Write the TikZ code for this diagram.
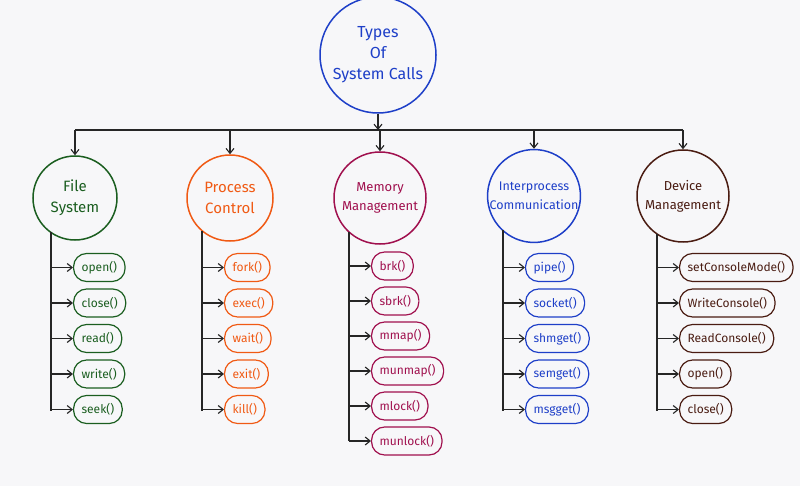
\documentclass[tikz,border=0pt]{standalone}
\usepackage{fontspec}
\setmainfont{Fira Sans}
\usetikzlibrary{positioning,arrows.meta}
\definecolor{fsgreen}{HTML}{1B5E20}
\definecolor{pcorange}{HTML}{F05A14}
\definecolor{mmred}{HTML}{A0104E}
\definecolor{ipblue}{HTML}{1E3FC8}
\definecolor{dmbrown}{HTML}{4A1C12}
\definecolor{paper}{HTML}{F7F7F9}
\tikzset{
  cat/.style={circle,draw,line width=1.5pt,align=center,inner sep=0pt,font=\fontsize{15}{21}\selectfont},
  leaf/.style={draw,line width=1.2pt,rounded corners=13pt,minimum height=28pt,inner xsep=8pt,anchor=west,font=\fontsize{12}{14}\selectfont},
  link/.style={-{Straight Barb[length=5pt,width=8pt]},line width=1.1pt,black!85},
  trunk/.style={line width=1.1pt,black!85}
}
\begin{document}
\begin{tikzpicture}[x=1pt,y=-1pt]
\fill[paper] (0,0) rectangle (800,486);
\useasboundingbox (0,0) rectangle (800,486);
% root
\node[cat,draw=ipblue,text=ipblue,minimum size=116pt,font=\fontsize{16}{21}\selectfont] (root) at (378,55) {Types\\Of\\System Calls};
\coordinate (bus) at (378,130);
\draw[link] (root.south) -- (bus);
% categories
\node[cat,draw=fsgreen,text=fsgreen,minimum size=84pt] (fs) at (75,198) {File\\System};
\node[cat,draw=pcorange,text=pcorange,minimum size=86pt] (pc) at (230,198) {Process\\Control};
\node[cat,draw=mmred,text=mmred,minimum size=92pt,font=\fontsize{13}{19}\selectfont] (mm) at (380,198) {Memory\\Management};
\node[cat,draw=ipblue,text=ipblue,minimum size=92pt,font=\fontsize{12.5}{19}\selectfont] (ip) at (534,196) {Interprocess\\Communication};
\node[cat,draw=dmbrown,text=dmbrown,minimum size=92pt,font=\fontsize{13}{19}\selectfont] (dm) at (683,196) {Device\\Management};
\draw[trunk] (fs.north |- bus) -- (dm.north |- bus);
\foreach \c in {fs,pc,mm,ip,dm}
  \draw[link] (\c.north |- bus) -- (\c.north);
% leaves
\foreach \c/\x/\top/\col/\list in {
  fs/51/232/fsgreen/{open(),close(),read(),write(),seek()},
  pc/202/231/pcorange/{fork(),exec(),wait(),exit(),kill()},
  ip/503/230/ipblue/{pipe(),socket(),shmget(),semget(),msgget()},
  dm/657/234/dmbrown/{setConsoleMode(),WriteConsole(),ReadConsole(),open(),close()}}{
  \foreach \t [count=\i] in \list {
    \node[leaf,draw=\col,text=\col] (\c-\i) at (\x+22,232+35.5*\i) {\t};
    \draw[link] (\x,232+35.5*\i) -- (\c-\i.west);
  }
  \draw[trunk] (\x,\top) -- (\x,411);
}
\foreach \t [count=\i] in {brk(),sbrk(),mmap(),munmap(),mlock(),munlock()} {
  \node[leaf,draw=mmred,text=mmred] (mm-\i) at (371,231+35*\i) {\t};
  \draw[link] (349,231+35*\i) -- (mm-\i.west);
}
\draw[trunk] (349,232) -- (349,441);
\end{tikzpicture}
\end{document}
